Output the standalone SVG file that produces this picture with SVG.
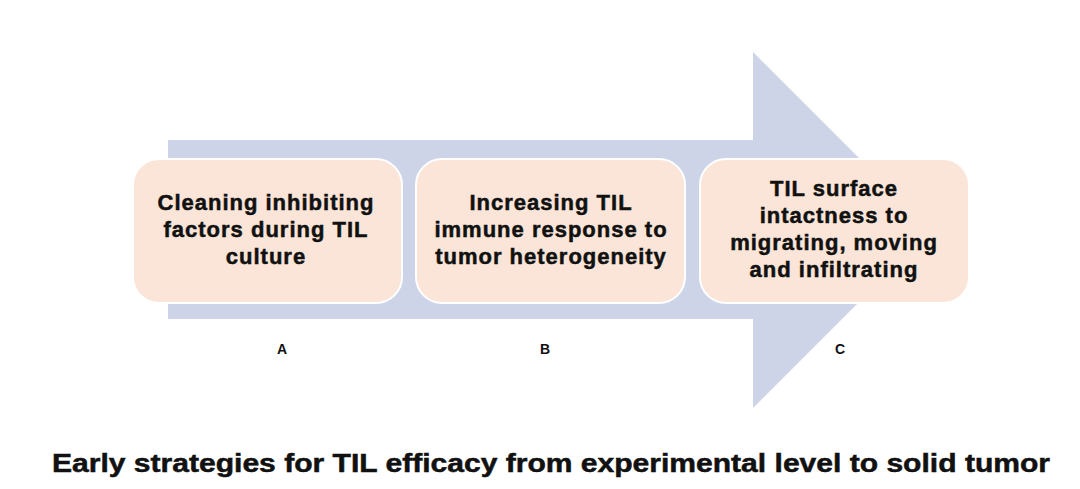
<svg xmlns="http://www.w3.org/2000/svg" width="1080" height="489" viewBox="0 0 1080 489">
<style>
.box{fill:#FAE5D8;stroke:#FFFFFF;stroke-width:2}
.t{font-family:"Liberation Sans",Arial,sans-serif;font-weight:bold;font-size:22px;letter-spacing:1px;fill:#111;stroke:#111;stroke-width:0.5;text-anchor:middle}
.lbl{font-family:"Liberation Sans",Arial,sans-serif;font-weight:bold;font-size:14px;fill:#111;text-anchor:middle}
.title{font-family:"Liberation Sans",Arial,sans-serif;font-weight:bold;font-size:25px;fill:#111;stroke:#111;stroke-width:0.5}
</style>
<rect width="1080" height="489" fill="#FFFFFF"/>
<g id="connectors">
<polygon id="arrow" points="168,140 753,140 753,52 931,230 753,408 753,319 168,319" fill="#CDD4E8"/>
</g>
<g id="nodeA">
<rect class="box" x="133" y="159" width="269" height="144" rx="26"/>
<text class="t" x="266" y="210">Cleaning inhibiting</text>
<text class="t" x="266" y="237">factors during TIL</text>
<text class="t" x="266" y="264">culture</text>
</g>
<g id="nodeB">
<rect class="box" x="416" y="159" width="269" height="144" rx="26"/>
<text class="t" x="551" y="210">Increasing TIL</text>
<text class="t" x="551" y="237">immune response to</text>
<text class="t" x="551" y="264">tumor heterogeneity</text>
</g>
<g id="nodeC">
<rect class="box" x="700" y="159" width="269" height="144" rx="26"/>
<text class="t" x="834" y="196">TIL surface</text>
<text class="t" x="834" y="223">intactness to</text>
<text class="t" x="834" y="250">migrating, moving</text>
<text class="t" x="834" y="277">and infiltrating</text>
</g>
<g id="labels">
<text class="lbl" x="282" y="354">A</text>
<text class="lbl" x="545" y="354">B</text>
<text class="lbl" x="840" y="354">C</text>
</g>
<text class="title" x="52" y="472" textLength="998" lengthAdjust="spacingAndGlyphs">Early strategies for TIL efficacy from experimental level to solid tumor</text>
</svg>
